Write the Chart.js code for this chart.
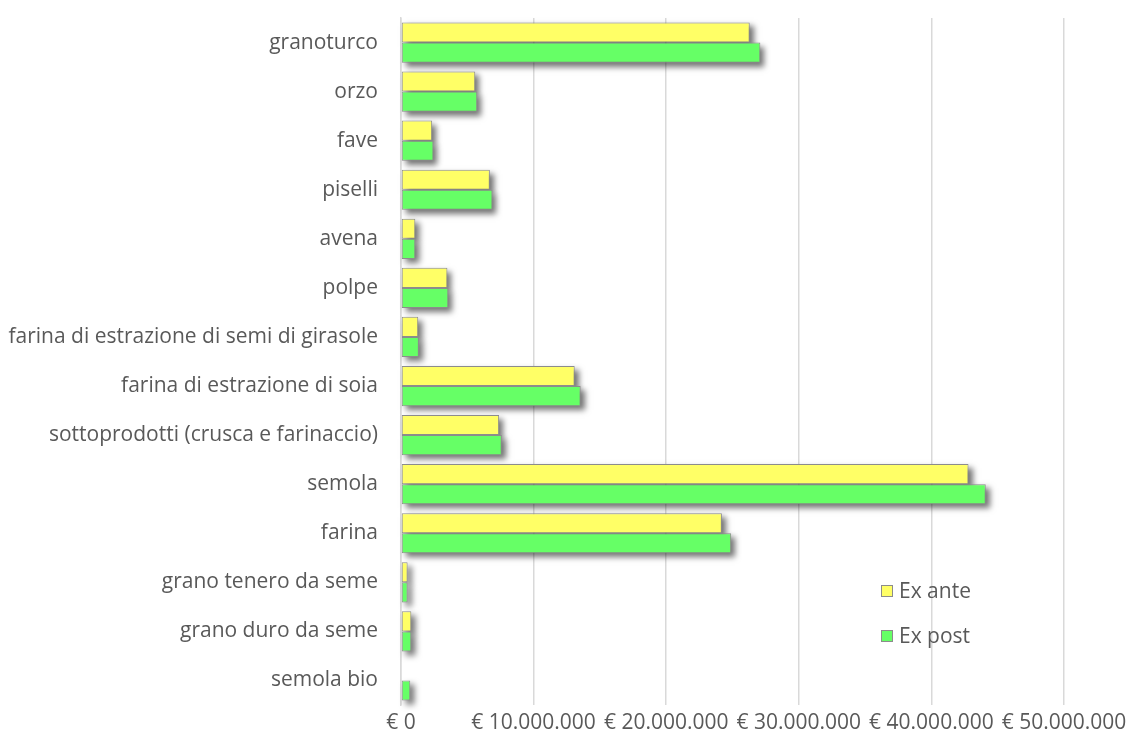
<!DOCTYPE html>
<html>
<head>
<meta charset="utf-8">
<script src="https://cdn.jsdelivr.net/npm/chart.js"></script>
<style>
  html, body { margin: 0; padding: 0; background: #ffffff; }
  #wrap { width: 1128px; height: 742px; }
</style>
</head>
<body>
<div id="wrap"><canvas id="grafico" width="1128" height="742"></canvas></div>
<script>
// categorie (dall'alto verso il basso)
const categorie = [
  'granoturco', 'orzo', 'fave', 'piselli', 'avena', 'polpe',
  'farina di estrazione di semi di girasole', 'farina di estrazione di soia',
  'sottoprodotti (crusca e farinaccio)', 'semola', 'farina',
  'grano tenero da seme', 'grano duro da seme', 'semola bio'
];
// valori in euro
const exAnte = [26300000, 5600000, 2350000, 6700000, 1080000, 3500000, 1300000, 13100000, 7400000, 42800000, 24200000, 500000, 780000, 0];
const exPost = [27100000, 5750000, 2450000, 6900000, 1080000, 3570000, 1350000, 13550000, 7600000, 44100000, 24900000, 500000, 780000, 700000];
const ticksX = [0, 10000000, 20000000, 30000000, 40000000, 50000000];

const fontBase = { family: "'Open Sans', sans-serif", size: 21 };
const grigioTesto = '#595959';

function euro(v) {
  return '€ ' + String(Math.round(v)).replace(/\B(?=(\d{3})+(?!\d))/g, '.');
}

// ombra sotto le barre: disegnata prima delle barre, usando le posizioni calcolate dal grafico
const ombraBarre = {
  id: 'ombraBarre',
  beforeDatasetsDraw(chart) {
    const ctx = chart.ctx;
    const ca = chart.chartArea;
    ctx.save();
    ctx.shadowColor = 'rgba(0,0,0,0.55)';
    ctx.shadowBlur = 6;
    ctx.shadowOffsetX = 10000 + 4;
    ctx.shadowOffsetY = 4;
    ctx.fillStyle = '#000';
    chart.data.datasets.forEach((ds, i) => {
      const meta = chart.getDatasetMeta(i);
      meta.data.forEach(el => {
        const w = Math.abs(el.x - el.base);
        if (w < 0.5) return;
        const left = Math.min(el.x, el.base);
        ctx.fillRect(left - 10000, el.y - el.height / 2, w, el.height);
      });
    });
    ctx.restore();
  }
};

// legenda dentro l'area del grafico, in basso a destra
const legendaInterna = {
  id: 'legendaInterna',
  afterDraw(chart) {
    const ctx = chart.ctx;
    const ca = chart.chartArea;
    ctx.save();
    ctx.font = fontBase.size + 'px ' + fontBase.family;
    ctx.textBaseline = 'middle';
    chart.data.datasets.forEach((ds, i) => {
      const x = ca.left + 480;
      const y = ca.top + 573 + i * 45;
      ctx.fillStyle = ds.backgroundColor;
      ctx.fillRect(x, y - 6, 12, 12);
      ctx.strokeStyle = ds.borderColor;
      ctx.lineWidth = 1;
      ctx.strokeRect(x + 0.5, y - 5.5, 11, 11);
      ctx.fillStyle = grigioTesto;
      ctx.fillText(ds.label, x + 18, y + 1);
    });
    ctx.restore();
  }
};

new Chart(document.getElementById('grafico'), {
  type: 'bar',
  data: {
    labels: categorie,
    datasets: [
      {
        label: 'Ex ante',
        data: exAnte,
        backgroundColor: '#ffff66',
        borderColor: '#8c8c8c',
        borderWidth: 1,
        borderSkipped: false
      },
      {
        label: 'Ex post',
        data: exPost,
        backgroundColor: '#66ff66',
        borderColor: '#8c8c8c',
        borderWidth: 1,
        borderSkipped: false
      }
    ]
  },
  options: {
    indexAxis: 'y',
    responsive: false,
    animation: false,
    maintainAspectRatio: false,
    layout: { padding: { left: 0, right: 64, top: 18, bottom: 8 } },
    datasets: {
      bar: { categoryPercentage: 0.82, barPercentage: 1.0 }
    },
    plugins: {
      legend: { display: false },
      tooltip: { enabled: false }
    },
    scales: {
      x: {
        min: 0,
        max: 50000000,
        afterBuildTicks: (scale) => { scale.ticks = ticksX.map(v => ({ value: v })); },
        afterFit: (scale) => {
          scale.height = 29;
          scale.paddingRight = 0;
          scale.paddingLeft = 0;
        },
        grid: { color: '#d9d9d9', lineWidth: 1.5, drawTicks: false },
        border: { display: false },
        ticks: {
          color: grigioTesto,
          font: fontBase,
          padding: 5,
          maxRotation: 0,
          autoSkip: false,
          callback: (v) => euro(v)
        }
      },
      y: {
        afterFit: (scale) => {
          scale.width = 401;
          scale.paddingTop = 0;
          scale.paddingBottom = 0;
        },
        grid: { display: false, drawTicks: false },
        border: { display: true, color: '#d9d9d9', width: 1.5 },
        ticks: {
          color: grigioTesto,
          font: fontBase,
          padding: 23,
          autoSkip: false
        }
      }
    }
  },
  plugins: [ombraBarre, legendaInterna]
});
</script>
</body>
</html>
